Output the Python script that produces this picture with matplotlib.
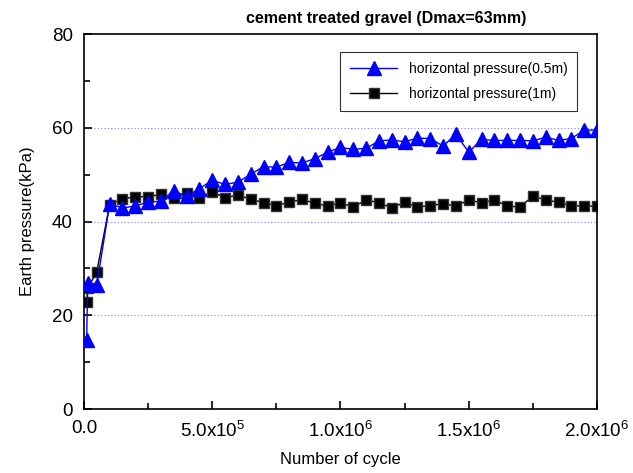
import numpy as np
import matplotlib
matplotlib.use("Agg")
import matplotlib.pyplot as plt
from matplotlib.ticker import MultipleLocator

plt.rcParams['font.family'] = ['Liberation Sans', 'DejaVu Sans']
plt.rcParams['mathtext.fontset'] = 'custom'
plt.rcParams['mathtext.rm'] = 'Liberation Sans'

# cycles: first few early readings, then every 5e4 up to 2e6
x_early = [1.0e4, 1.5e4, 5.0e4]
x_main = [1.0e5 + 5.0e4 * i for i in range(39)]
cycles = x_early + x_main

# horizontal pressure at 0.5 m (kPa)
p05 = [14.8, 26.9, 26.5,
       43.8, 42.9, 43.3, 44.2, 44.3, 46.5, 45.4, 47.0, 48.8, 47.9,
       48.4, 50.1, 51.7, 51.6, 52.6, 52.5, 53.4, 54.8, 55.8, 55.4,
       55.6, 57.2, 57.4, 57.0, 57.8, 57.7, 56.1, 58.6, 54.8, 57.5,
       57.3, 57.3, 57.3, 57.2, 58.0, 57.3, 57.7, 59.5, 59.5]

# horizontal pressure at 1 m (kPa)
p1 = [22.8, 25.8, 29.3,
      43.6, 44.8, 45.3, 45.3, 45.8, 45.1, 46.0, 45.1, 46.3, 45.1,
      45.6, 44.8, 44.0, 43.4, 44.1, 44.7, 43.9, 43.3, 44.0, 43.1,
      44.6, 44.0, 42.9, 44.1, 43.1, 43.4, 43.8, 43.3, 44.6, 44.0,
      44.6, 43.3, 43.1, 45.4, 44.6, 44.1, 43.4, 43.3, 43.3]

xticks = [0, 5e5, 1e6, 1.5e6, 2e6]
xticklabels = ['0.0', r'5.0x10$^5$', r'1.0x10$^6$', r'1.5x10$^6$', r'2.0x10$^6$']

fig = plt.figure(figsize=(6.33, 4.73), dpi=100)
ax = fig.add_axes([0.1327, 0.1353, 0.8104, 0.7928])

for y in [20, 40, 60]:
    ax.axhline(y, color='#8080ff', lw=0.8, ls=(0, (1, 2)), zorder=0)

ax.plot(cycles, p1, color='black', lw=1, marker='s', ms=7.5,
        markeredgecolor='#333333', label='horizontal pressure(1m)', zorder=2)
ax.plot(cycles, p05, color='blue', lw=1, marker='^', ms=10,
        markeredgecolor='blue', label='horizontal pressure(0.5m)', zorder=3)

ax.set_xlim(0, 2e6)
ax.set_ylim(0, 80)
ax.set_xticks(xticks)
ax.set_xticklabels(xticklabels)
ax.xaxis.set_minor_locator(MultipleLocator(2.5e5))
ax.yaxis.set_major_locator(MultipleLocator(20))
ax.yaxis.set_minor_locator(MultipleLocator(10))
ax.tick_params(which='both', direction='in', labelsize=13.5, width=1.2)
ax.tick_params(which='major', length=6)
ax.tick_params(which='minor', length=4)
ax.tick_params(axis='x', pad=8)
ax.tick_params(axis='y', pad=8)
for s in ax.spines.values():
    s.set_linewidth(1.2)

ax.set_xlabel('Number of cycle', fontsize=12, labelpad=8)
ax.set_ylabel('Earth pressure(kPa)', fontsize=12, labelpad=12)
ax.set_title('cement treated gravel (Dmax=63mm)', fontsize=11.5,
             fontweight='bold', x=0.59, pad=8)

handles, labels = ax.get_legend_handles_labels()
leg = ax.legend(handles[::-1], labels[::-1], loc='upper right',
                bbox_to_anchor=(0.961, 0.952), borderaxespad=0,
                fontsize=10, fancybox=False, edgecolor='black',
                handlelength=3.4, borderpad=0.7, labelspacing=0.8)
leg.get_frame().set_linewidth(0.8)

fig.savefig('out.png', dpi=100)
